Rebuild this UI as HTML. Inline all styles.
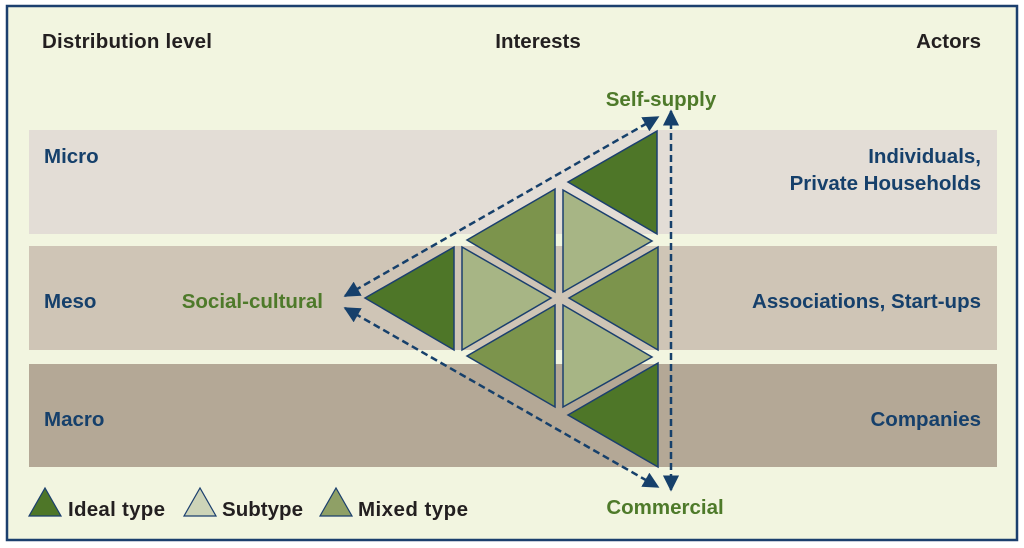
<!DOCTYPE html>
<html><head><meta charset="utf-8"><style>
html,body{margin:0;padding:0;background:#fff;}
svg{display:block;}
text{font-family:"Liberation Sans",sans-serif;font-weight:bold;}
</style></head><body>
<svg width="1024" height="548" viewBox="0 0 1024 548" xmlns="http://www.w3.org/2000/svg">
<defs>
<marker id="ah" viewBox="0 0 10 10" refX="9" refY="5" markerWidth="6.5" markerHeight="6.5" orient="auto-start-reverse"><path d="M0,0 L10,5 L0,10 z" fill="#16406b"/></marker>
</defs>
<rect x="7" y="6" width="1010" height="534" fill="#f2f5e0" stroke="#1b3f6e" stroke-width="2.5"/>
<rect x="29" y="130" width="968" height="104" fill="#e3ddd6"/>
<rect x="29" y="246" width="968" height="104" fill="#cfc5b6"/>
<rect x="29" y="364" width="968" height="103" fill="#b4a896"/>
<g font-size="20.5">
<text x="42" y="48" fill="#231f20" textLength="170">Distribution level</text>
<text x="538" y="48" fill="#231f20" text-anchor="middle">Interests</text>
<text x="981" y="48" fill="#231f20" text-anchor="end">Actors</text>
<text x="44" y="163" fill="#16406b">Micro</text>
<text x="44" y="308" fill="#16406b">Meso</text>
<text x="44" y="426" fill="#16406b">Macro</text>
<text x="981" y="163" fill="#16406b" text-anchor="end">Individuals,</text>
<text x="981" y="190" fill="#16406b" text-anchor="end">Private Households</text>
<text x="981" y="308" fill="#16406b" text-anchor="end">Associations, Start-ups</text>
<text x="981" y="426" fill="#16406b" text-anchor="end">Companies</text>
<text x="661" y="106" fill="#4e7a2a" text-anchor="middle">Self-supply</text>
<text x="665" y="514" fill="#4e7a2a" text-anchor="middle">Commercial</text>
<text x="323" y="308" fill="#4e7a2a" text-anchor="end">Social-cultural</text>
</g>
<g stroke="#1b3f6e" stroke-width="1.5" stroke-linejoin="miter">
<polygon points="568,182 657,131 657,234" fill="#4e7628"/>
<polygon points="467,240 555,189 555,292" fill="#7c944c"/>
<polygon points="563,190 652,241 563,292" fill="#a7b585"/>
<polygon points="365,298 454,247 454,350" fill="#4e7628"/>
<polygon points="462,247 551,298 462,350" fill="#a7b585"/>
<polygon points="569,298 658,247 658,350" fill="#7c944c"/>
<polygon points="467,356 555,305 555,407" fill="#7c944c"/>
<polygon points="563,305 652,357 563,407" fill="#a7b585"/>
<polygon points="568,415 658,363 658,467" fill="#4e7628"/>
</g>
<g stroke="#16406b" stroke-width="2.5" stroke-dasharray="7,4" fill="none" marker-start="url(#ah)" marker-end="url(#ah)">
<line x1="345" y1="296" x2="658" y2="117"/>
<line x1="345" y1="308" x2="658" y2="487"/>
<line x1="671" y1="111" x2="671" y2="490"/>
</g>
<g stroke="#1b3f6e" stroke-width="1.2">
<polygon points="29,516 45,488 61,516" fill="#4e7628"/>
<polygon points="184,516 200,488 216,516" fill="#cdd4b8"/>
<polygon points="320,516 336,488 352,516" fill="#8fa066"/>
</g>
<g font-size="20.5" fill="#231f20">
<text x="68" y="516" textLength="97">Ideal type</text>
<text x="222" y="516" textLength="81">Subtype</text>
<text x="358" y="516" textLength="110">Mixed type</text>
</g>
</svg>
</body></html>
